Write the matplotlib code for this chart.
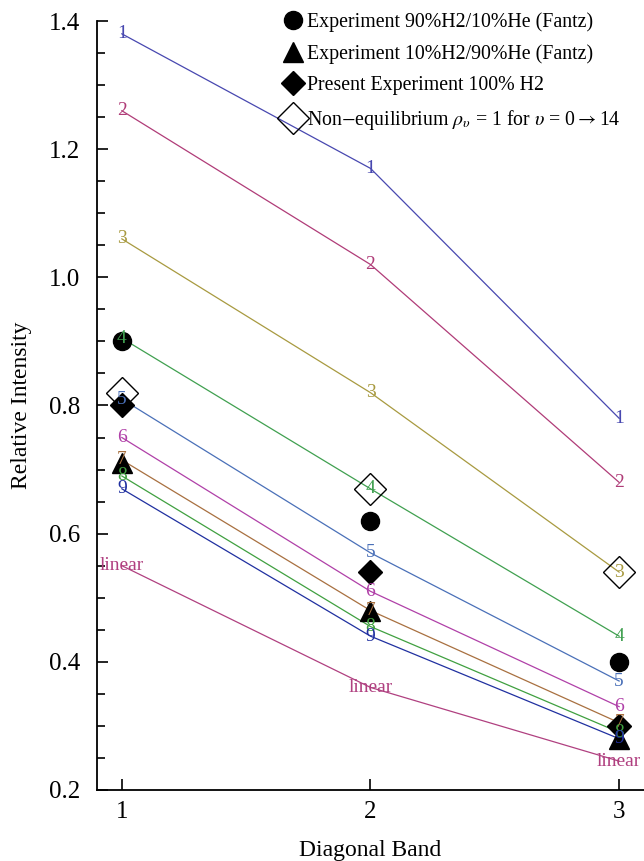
import numpy as np
import matplotlib.pyplot as plt
from matplotlib.ticker import MultipleLocator

plt.rcParams['font.family'] = ['Liberation Serif', 'DejaVu Serif']
plt.rcParams['mathtext.fontset'] = 'stix'

bands = [1, 2, 3]

# model curves, labelled by vibrational level (plus the linear case)
curve_labels = ['1', '2', '3', '4', '5', '6', '7', '8', '9', 'linear']
curve_values = [
    [1.38, 1.17, 0.78],
    [1.26, 1.02, 0.68],
    [1.06, 0.82, 0.54],
    [0.905, 0.67, 0.44],
    [0.81, 0.57, 0.37],
    [0.75, 0.51, 0.33],
    [0.715, 0.48, 0.305],
    [0.69, 0.455, 0.29],
    [0.67, 0.44, 0.28],
    [0.55, 0.36, 0.245],
]
curve_colors = ['#4848b0', '#b03c78', '#a89a40', '#40a050', '#4a70b8',
                '#b040a8', '#a87040', '#40a040', '#2030a0', '#b04080']

fantz_90h2 = [0.90, 0.62, 0.40]
fantz_10h2 = [0.71, 0.48, 0.28]
present_h2 = [0.80, 0.54, 0.30]
non_equil = [0.82, 0.67, 0.54]

fig = plt.figure(figsize=(6.44, 8.61), dpi=100)
ax = fig.add_axes([0.1506, 0.0825, 0.8494, 0.8931])

for lab, vals, col in zip(curve_labels, curve_values, curve_colors):
    ax.plot(bands, vals, color=col, lw=0.9)
    for xb, yv in zip(bands, vals):
        ax.text(xb, yv, lab, color=col, fontsize=14, ha='center', va='center', zorder=5)

ax.plot(bands, fantz_90h2, 'o', color='black', ms=13, ls='none',
        label='Experiment 90%H2/10%He (Fantz)')
ax.plot(bands, fantz_10h2, '^', color='black', ms=14, ls='none',
        label='Experiment 10%H2/90%He (Fantz)')
ax.plot(bands, present_h2, 'D', color='black', ms=12, ls='none',
        label='Present Experiment 100% H2')
ax.plot(bands, non_equil, 'D', mfc='none', mec='black', mew=1.0, ms=16, ls='none',
        label=r'Non$-$equilibrium $\rho_\upsilon$ = 1 for $\upsilon$ = 0$\rightarrow$14')

ax.set_xlim(0.9, 3.1)
ax.set_ylim(0.2, 1.4)
ax.set_xticks(bands)
ax.yaxis.set_major_locator(MultipleLocator(0.2))
ax.yaxis.set_minor_locator(MultipleLocator(0.05))
ax.yaxis.set_major_formatter(plt.FormatStrFormatter('%.1f'))
ax.tick_params(direction='in', which='major', length=8, width=1.2, labelsize=18, pad=12)
ax.tick_params(direction='in', which='minor', length=6, width=1.2)
ax.tick_params(axis='x', pad=8)
ax.spines['top'].set_visible(False)
ax.spines['right'].set_visible(False)
ax.spines['left'].set_linewidth(1.3)
ax.spines['bottom'].set_linewidth(1.3)

ax.set_xlabel('Diagonal Band', fontsize=17, labelpad=12)
ax.set_ylabel('Relative Intensity', fontsize=17, labelpad=12)

ax.legend(loc='upper left', bbox_to_anchor=(272 / 644, 0.9995), bbox_transform=fig.transFigure,
          frameon=False, fontsize=14.3, handlelength=0.9, handletextpad=0.25,
          labelspacing=0.62, borderaxespad=0.2)

fig.savefig('out.png', dpi=100)
